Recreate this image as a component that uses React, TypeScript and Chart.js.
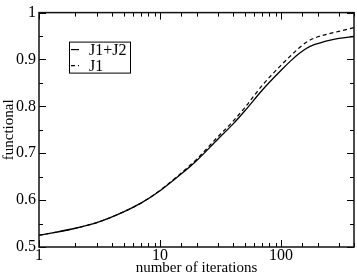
import React, { useEffect, useRef } from "react";
import { Chart, registerables } from "chart.js";

Chart.register(...registerables);

const iterations = [1, 2, 3, 5, 7, 10, 15, 20, 30, 40, 50, 70, 100, 120, 140, 160, 190, 250, 300, 400];
const j1j2 = [0.525, 0.540, 0.552, 0.575, 0.594, 0.620, 0.656, 0.684, 0.730, 0.762, 0.790, 0.835, 0.877, 0.897, 0.912, 0.923, 0.932, 0.941, 0.945, 0.949];
const j1 = [0.525, 0.540, 0.552, 0.575, 0.594, 0.621, 0.658, 0.687, 0.735, 0.768, 0.797, 0.845, 0.888, 0.908, 0.924, 0.936, 0.946, 0.955, 0.960, 0.968];
const seriesLabels = ["J1+J2", "J1"];
const xAxisTitle = "number of iterations";
const yAxisTitle = "functional";

const FONT = "'Liberation Serif', 'Times New Roman', serif";

const isMajorX = (v: number) => Math.abs(Math.log10(v) - Math.round(Math.log10(v))) < 1e-9;
const isMajorY = (v: number) => Math.round(v * 20) % 2 === 0;

const framePlugin = {
  id: "frameTicks",
  afterDraw(chart: any) {
    const { ctx, chartArea: a, scales } = chart;
    ctx.save();
    ctx.strokeStyle = "#000";
    ctx.lineWidth = 1;
    for (const t of scales.x.ticks) {
      const px = Math.round(scales.x.getPixelForValue(t.value)) + 0.5;
      const len = isMajorX(t.value) ? 7 : 4;
      ctx.beginPath();
      ctx.moveTo(px, a.bottom);
      ctx.lineTo(px, a.bottom - len);
      ctx.moveTo(px, a.top);
      ctx.lineTo(px, a.top + len);
      ctx.stroke();
    }
    for (const t of scales.y.ticks) {
      const py = Math.round(scales.y.getPixelForValue(t.value)) + 0.5;
      const len = isMajorY(t.value) ? 7 : 4;
      ctx.beginPath();
      ctx.moveTo(a.left, py);
      ctx.lineTo(a.left + len, py);
      ctx.moveTo(a.right, py);
      ctx.lineTo(a.right - len, py);
      ctx.stroke();
    }
    ctx.lineWidth = 1.5;
    ctx.strokeStyle = "#111";
    ctx.strokeRect(a.left, a.top, a.right - a.left, a.bottom - a.top);

    // legend box
    const bx = a.left + 30;
    const by = a.top + 29;
    const bw = 61;
    const bh = 31;
    ctx.fillStyle = "#fff";
    ctx.fillRect(bx, by, bw, bh);
    ctx.lineWidth = 1;
    ctx.strokeStyle = "#000";
    ctx.strokeRect(bx + 0.5, by + 0.5, bw, bh);
    ctx.font = `16px ${FONT}`;
    ctx.textBaseline = "middle";
    ctx.fillStyle = "#000";
    chart.data.datasets.forEach((ds: any, i: number) => {
      const ly = by + 8 + i * 16;
      ctx.beginPath();
      ctx.lineWidth = 1.2;
      ctx.setLineDash(ds.borderDash || []);
      ctx.moveTo(bx + 2, ly);
      ctx.lineTo(bx + 10, ly);
      ctx.stroke();
      ctx.setLineDash([]);
      ctx.fillText(ds.label, bx + 20, ly + 1);
    });
    ctx.restore();
  },
};

export default function App() {
  const ref = useRef<HTMLCanvasElement>(null);
  useEffect(() => {
    document.body.style.margin = "0";
    const chart = new Chart(ref.current!, {
      type: "line",
      data: {
        datasets: [
          {
            label: seriesLabels[0],
            data: iterations.map((x, i) => ({ x, y: j1j2[i] })),
            borderColor: "#000",
            borderWidth: 1.3,
            pointRadius: 0,
            cubicInterpolationMode: "monotone",
            fill: false,
          },
          {
            label: seriesLabels[1],
            data: iterations.map((x, i) => ({ x, y: j1[i] })),
            borderColor: "#000",
            borderWidth: 1.2,
            borderDash: [4, 3],
            pointRadius: 0,
            cubicInterpolationMode: "monotone",
            fill: false,
          },
        ],
      },
      options: {
        responsive: false,
        animation: false,
        layout: { padding: { top: 8, right: 3, left: 0, bottom: 0 } },
        plugins: { legend: { display: false }, tooltip: { enabled: false } },
        scales: {
          x: {
            type: "logarithmic",
            min: 1,
            max: 400,
            grid: { display: false, drawTicks: false },
            border: { display: false },
            afterFit: (s: any) => { s.height = 30; },
            ticks: {
              autoSkip: false,
              maxRotation: 0,
              padding: -1,
              color: "#000",
              font: { family: FONT, size: 16 },
              callback: (v: any) => (isMajorX(Number(v)) ? String(v) : ""),
            },
            title: {
              display: true,
              text: xAxisTitle,
              color: "#000",
              font: { family: FONT, size: 15 },
              padding: { top: -1, bottom: 0 },
            },
          },
          y: {
            type: "linear",
            min: 0.5,
            max: 1,
            grid: { display: false, drawTicks: false },
            border: { display: false },
            afterFit: (s: any) => { s.width = 39; },
            ticks: {
              stepSize: 0.05,
              autoSkip: false,
              padding: 3,
              color: "#000",
              font: { family: FONT, size: 16 },
              callback: (v: any) => {
                const n = Number(v);
                return isMajorY(n) ? String(Math.round(n * 10) / 10) : "";
              },
            },
            title: {
              display: true,
              text: yAxisTitle,
              color: "#000",
              font: { family: FONT, size: 15 },
              padding: { top: 0, bottom: 0 },
            },
          },
        },
      },
      plugins: [framePlugin],
    } as any);
    return () => chart.destroy();
  }, []);
  return (
    <div style={{ position: "absolute", left: 0, top: 0, width: 357, height: 277 }}>
      <canvas ref={ref} width={357} height={277} />
    </div>
  );
}
